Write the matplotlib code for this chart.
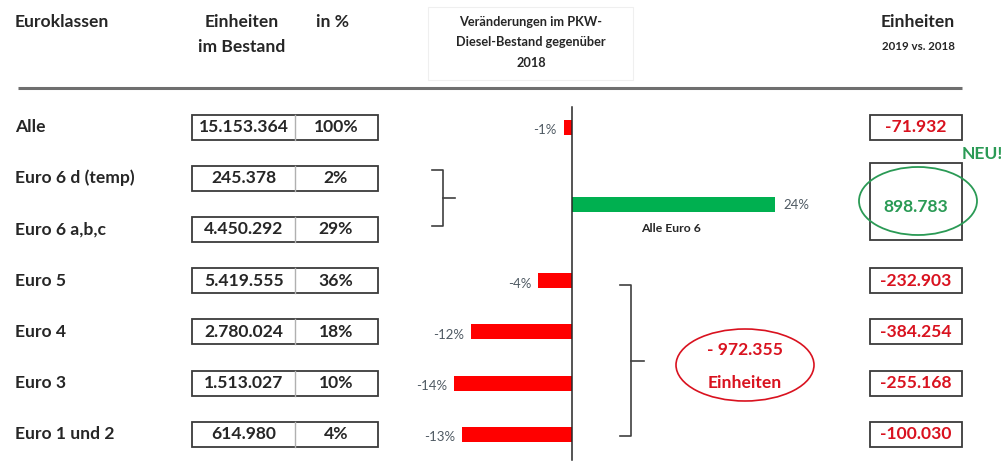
import matplotlib
matplotlib.use("Agg")
import matplotlib.pyplot as plt
from matplotlib.patches import Rectangle, Ellipse

plt.rcParams["font.family"] = ["Lato", "DejaVu Sans"]

# ---- data ----
classes = ["Alle", "Euro 6 d (temp)", "Euro 6 a,b,c", "Euro 5", "Euro 4", "Euro 3", "Euro 1 und 2"]
bestand = [15153364, 245378, 4450292, 5419555, 2780024, 1513027, 614980]
share_pct = [100, 2, 29, 36, 18, 10, 4]

change_groups = ["Alle", "Alle Euro 6", "Euro 5", "Euro 4", "Euro 3", "Euro 1 und 2"]
change_pct = [-1, 24, -4, -12, -14, -13]
change_units = [-71932, 898783, -232903, -384254, -255168, -100030]

RED = "#ff0000"
RED_TXT = "#d9121f"
GREEN = "#00b050"
GREEN_TXT = "#2a9a55"
GRAY_TXT = "#4f5a63"
BOX = "#3a3a3a"
TXT = "#262626"


def de(n):
    return f"{n:,}".replace(",", ".")


W, H = 1001, 463
fig = plt.figure(figsize=(W / 100, H / 100), dpi=100)
ax = fig.add_axes([0, 0, 1, 1])
ax.set_xlim(0, W)
ax.set_ylim(H, 0)
ax.axis("off")

# layout: row centres in pixels
row_y = [127 + 51.2 * i for i in range(len(classes))]
# bar rows: Alle, Euro 6 (between the two Euro 6 rows), then the rest
bar_y = [row_y[0], (row_y[1] + row_y[2]) / 2 + 1] + row_y[3:]

fs = 12.6

# ---- header ----
ax.text(15, 22, "Euroklassen", fontsize=fs, weight="bold", color=TXT, va="center")
ax.text(242, 22, "Einheiten", fontsize=fs, weight="bold", color=TXT, va="center", ha="center")
ax.text(242, 47, "im Bestand", fontsize=fs, weight="bold", color=TXT, va="center", ha="center")
ax.text(332, 22, "in %", fontsize=fs, weight="bold", color=TXT, va="center", ha="center")
ax.add_patch(Rectangle((428, 7), 205, 73, fill=False, ec="#efefef", lw=0.8))
for i, line in enumerate(["Veränderungen im PKW-", "Diesel-Bestand gegenüber", "2018"]):
    ax.text(531, 22 + 20.5 * i, line, fontsize=9.2, weight="bold", color=TXT,
            va="center", ha="center")
ax.text(918, 22, "Einheiten", fontsize=fs, weight="bold", color=TXT, va="center", ha="center")
ax.text(918, 47, "2019 vs. 2018", fontsize=8.3, weight="bold", color=TXT, va="center", ha="center")
ax.plot([18, 962], [88, 88], color="#6f6f6f", lw=2.2, solid_capstyle="butt")

# ---- left table ----
bh = 25
for y, name, n, p in zip(row_y, classes, bestand, share_pct):
    ax.text(15, y, name, fontsize=fs, weight="bold", color=TXT, va="center")
    ax.add_patch(Rectangle((192, y - bh / 2), 186, bh, fill=False, ec=BOX, lw=1.3))
    ax.plot([295, 295], [y - bh / 2, y + bh / 2], color="#b0b0b0", lw=1)
    ax.text(244, y, de(n), fontsize=fs, weight="bold", color=TXT, va="center", ha="center")
    ax.text(336, y, f"{p}%", fontsize=fs, weight="bold", color=TXT, va="center", ha="center")

# ---- change bars (own axes, percent scale) ----
zero_px, px_per_pct = 572, 8.44
lo, hi = -20, 30
bax = fig.add_axes([(zero_px + lo * px_per_pct) / W, 0, (hi - lo) * px_per_pct / W, 1])
bax.set_xlim(lo, hi)
bax.set_ylim(H, 0)
bax.axis("off")
bax.patch.set_alpha(0)
colors = [GREEN if v > 0 else RED for v in change_pct]
bax.barh(bar_y, change_pct, height=15, color=colors, edgecolor="none")
bax.plot([0, 0], [107, 460], color=TXT, lw=1.1)
for y, v in zip(bar_y, change_pct):
    if v > 0:
        bax.text(v + 1.1, y, f"{v}%", fontsize=9.5, color=GRAY_TXT, va="center", ha="left")
    else:
        bax.text(v - 0.8, y + 3, f"{v}%", fontsize=9.5, color=GRAY_TXT, va="center", ha="right")
bax.text(11.7, 228, change_groups[1], fontsize=8.8, weight="bold", color=TXT,
         va="center", ha="center")

# ---- brackets ----
def brace(x0, x1, y0, y1, tick):
    ax.plot([x0, x1, x1, x0], [y0, y0, y1, y1], color="#404040", lw=1.2)
    ax.plot([x1, x1 + tick], [(y0 + y1) / 2] * 2, color="#404040", lw=1.2)


brace(432, 443, 170, 226, 12)
brace(620, 631, 285, 436, 13)

# ---- right column ----
rx, rw = 870, 92
ax.add_patch(Rectangle((rx, row_y[0] - bh / 2), rw, bh, fill=False, ec=BOX, lw=1.3))
ax.text(rx + rw / 2, row_y[0], de(change_units[0]), fontsize=fs, weight="bold",
        color=RED_TXT, va="center", ha="center")
ax.add_patch(Rectangle((rx, 163), rw, 77, fill=False, ec=BOX, lw=1.3))
ax.text(rx + rw / 2, bar_y[1] + 2, de(change_units[1]), fontsize=fs, weight="bold",
        color=GREEN_TXT, va="center", ha="center")
ax.add_patch(Ellipse((918, 201), 118, 68, fill=False, ec=GREEN_TXT, lw=1.3))
ax.text(982, 154, "NEU!", fontsize=fs, weight="bold", color=GREEN_TXT, va="center", ha="center")
for y, v in zip(row_y[3:], change_units[2:]):
    ax.add_patch(Rectangle((rx, y - bh / 2), rw, bh, fill=False, ec=BOX, lw=1.3))
    ax.text(rx + rw / 2, y, de(v), fontsize=fs, weight="bold", color=RED_TXT,
            va="center", ha="center")

# total of the losses for Euro 1-5
loss = sum(change_units[2:])
ax.add_patch(Ellipse((745, 365), 138, 72, fill=False, ec=RED_TXT, lw=1.2))
ax.text(745, 350, "- " + de(-loss), fontsize=fs, weight="bold", color=RED_TXT, va="center", ha="center")
ax.text(745, 383, "Einheiten", fontsize=fs, weight="bold", color=RED_TXT, va="center", ha="center")

fig.savefig("out.png", dpi=100)
